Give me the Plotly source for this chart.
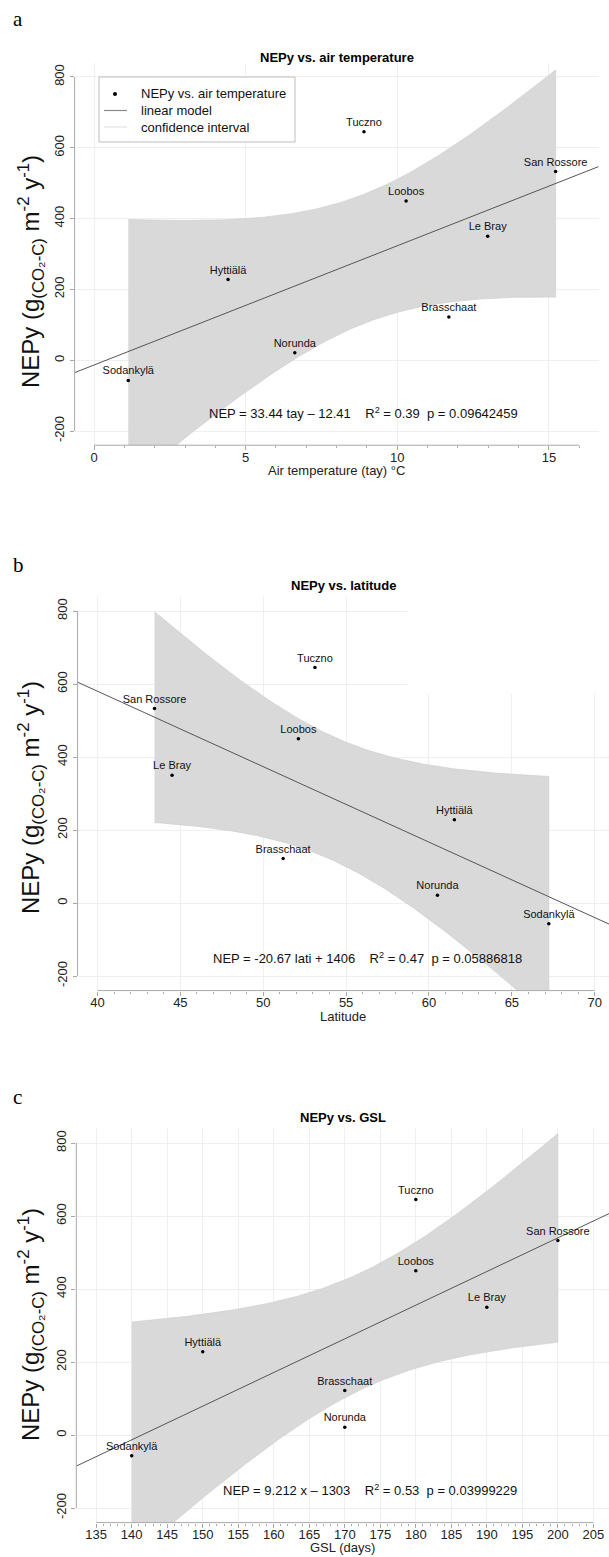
import numpy as np
import plotly.graph_objects as go

# ---------------- data ----------------
sites = ["Tuczno", "San Rossore", "Loobos", "Le Bray", "Hyttiälä", "Brasschaat", "Norunda", "Sodankylä"]
nep = [645, 533, 450, 350, 228, 122, 21, -57]
tay = [8.90, 15.22, 10.29, 12.98, 4.42, 11.70, 6.62, 1.13]
lat = [53.12, 43.44, 52.12, 44.50, 61.53, 51.20, 60.51, 67.23]
gsl = [180, 200, 180, 190, 150, 170, 170, 140]

titles = ["NEPy vs. air temperature", "NEPy vs. latitude", "NEPy vs. GSL"]
xtitles = ["Air temperature (tay) °C", "Latitude", "GSL (days)"]
equations = [
    "NEP = 33.44 tay – 12.41\u00a0\u00a0\u00a0\u00a0R<sup>2</sup> = 0.39\u00a0\u00a0p = 0.09642459",
    "NEP = -20.67 lati + 1406\u00a0\u00a0\u00a0\u00a0R<sup>2</sup> = 0.47\u00a0\u00a0p = 0.05886818",
    "NEP = 9.212 x – 1303\u00a0\u00a0\u00a0\u00a0R<sup>2</sup> = 0.53\u00a0\u00a0p = 0.03999229",
]
panel_letters = ["a", "b", "c"]
ytick_vals = [-200, 0, 200, 400, 600, 800]
ytick_text = ["-200", "0", "200", "400", "600", "800"]
xtick_sets = [[0, 5, 10, 15], list(range(40, 71, 5)), list(range(135, 206, 5))]
T975_DF6 = 2.446912  # qt(0.975, 6)

# ---------------- layout geometry (pixels) ----------------
W, H = 609, 1557
# (left px, right px, top px, bottom px, xrange)
geo = [
    (74.6, 598.7, 62.8, 445.2, [-0.64, 16.64]),
    (77.6, 609.0, 596.4, 990.6, [38.8, 70.86]),
    (76.3, 609.0, 1128.4, 1522.6, [132.2, 207.2]),
]
yrange = [-240, 840]
axis_span = [(0, 16), (40, 70), (135, 205)]
eq_pos = [(8.9, -150), (56.3, -152), (173.6, -152)]
letter_y = [19, 565, 1097]
title_y = [57, 585, 1117]
xtitle_y = [471, 1016, 1547]
ytitle_c = [272, 798, 1325]

FONT = "Liberation Sans, Arial, sans-serif"
GRID = "#efefef"
AXC = "#a8a8a8"
TXT = "#222222"

fig = go.Figure()
xs_all = [tay, lat, gsl]

shapes = []
annotations = []

for i in range(3):
    x = np.array(xs_all[i], dtype=float)
    y = np.array(nep, dtype=float)
    xa = "x" if i == 0 else f"x{i+1}"
    ya = "y" if i == 0 else f"y{i+1}"
    left, right, top, bot, xr = geo[i]

    # linear model and 95% confidence band computed from the data
    b1, b0 = np.polyfit(x, y, 1)
    n = len(x)
    resid = y - (b0 + b1 * x)
    s = np.sqrt(np.sum(resid ** 2) / (n - 2))
    sxx = np.sum((x - x.mean()) ** 2)
    xg = np.linspace(x.min(), x.max(), 200)
    fit = b0 + b1 * xg
    half = T975_DF6 * s * np.sqrt(1.0 / n + (xg - x.mean()) ** 2 / sxx)
    up, lo = fit + half, fit - half

    fig.add_trace(go.Scatter(
        x=np.concatenate([xg, xg[::-1]]), y=np.concatenate([up, lo[::-1]]),
        fill="toself", fillcolor="#d9d9d9", mode="lines",
        line=dict(color="#cdcdcd", width=0.6), hoverinfo="skip",
        showlegend=False, xaxis=xa, yaxis=ya, name="confidence interval"))

    xl = np.array(xr)
    fig.add_trace(go.Scatter(
        x=xl, y=b0 + b1 * xl, mode="lines", line=dict(color="#555555", width=1),
        showlegend=False, xaxis=xa, yaxis=ya, name="linear model"))

    fig.add_trace(go.Scatter(
        x=x, y=y, mode="markers+text", text=sites, textposition="top center",
        textfont=dict(family=FONT, size=11, color="#111111"),
        marker=dict(color="black", size=3.5), cliponaxis=False,
        showlegend=False, xaxis=xa, yaxis=ya, name=titles[i]))

    xdom = [left / W, min(right / W, 1.0)]
    ydom = [1 - bot / H, 1 - top / H]
    axkey = "xaxis" if i == 0 else f"xaxis{i+1}"
    aykey = "yaxis" if i == 0 else f"yaxis{i+1}"
    lo_s, hi_s = axis_span[i]
    fig.update_layout(**{
        axkey: dict(domain=xdom, range=xr, anchor=ya, tickvals=xtick_sets[i],
                    ticks="outside", ticklen=4, tickcolor=AXC, tickwidth=1,
                    ticklabelstandoff=-4,
                    showline=False, zeroline=False, showgrid=True, gridcolor=GRID,
                    gridwidth=1, tickfont=dict(family=FONT, size=13, color=TXT),
                    minor=dict(tickvals=list(range(lo_s, hi_s + 1)), ticks="outside",
                               ticklen=2, tickcolor=AXC, showgrid=False)),
        aykey: dict(domain=ydom, range=yrange, anchor=xa, tickvals=ytick_vals,
                    ticktext=ytick_text,
                    ticks="outside", ticklen=4, tickcolor=AXC, tickwidth=1,
                    showline=False, zeroline=False, showgrid=True, gridcolor=GRID,
                    gridwidth=1, tickangle=-90,
                    tickfont=dict(family=FONT, size=13, color=TXT)),
    })

    # R-style axis lines spanning the tick range
    shapes.append(dict(type="line", xref=f"{xa} domain", yref=ya, x0=0, x1=0,
                       y0=-200, y1=800, line=dict(color=AXC, width=1)))
    shapes.append(dict(type="line", xref=xa, yref=f"{ya} domain", x0=lo_s, x1=hi_s,
                       y0=0, y1=0, line=dict(color=AXC, width=1)))

    cx = (left + min(right, 615)) / 2 / W
    annotations.append(dict(text=f"<b>{titles[i]}</b>", x=cx, y=1 - title_y[i] / H,
                            xref="paper", yref="paper", showarrow=False,
                            font=dict(family=FONT, size=13, color="black"),
                            xanchor="center", yanchor="middle"))
    annotations.append(dict(text=xtitles[i], x=cx, y=1 - xtitle_y[i] / H,
                            xref="paper", yref="paper", showarrow=False,
                            font=dict(family=FONT, size=13, color=TXT),
                            xanchor="center", yanchor="middle"))
    annotations.append(dict(text=panel_letters[i], x=11 / W, y=1 - letter_y[i] / H,
                            xref="paper", yref="paper", showarrow=False,
                            font=dict(family="Liberation Serif, Times New Roman, serif",
                                      size=21, color="black"),
                            xanchor="left", yanchor="middle"))
    annotations.append(dict(text="NEPy (g<sub>(CO₂-C)</sub> m<sup>-2</sup> y<sup>-1</sup>)",
                            x=31 / W, y=1 - ytitle_c[i] / H,
                            xref="paper", yref="paper", showarrow=False, textangle=-90,
                            font=dict(family=FONT, size=24, color="#111111"),
                            xanchor="center", yanchor="middle"))
    ex, ey = eq_pos[i]
    annotations.append(dict(text=equations[i], x=ex, y=ey, xref=xa, yref=ya,
                            showarrow=False, font=dict(family=FONT, size=13, color="#111111"),
                            xanchor="center", yanchor="middle"))

# blank (empty white) box in panel b's upper right, as in the original
shapes.append(dict(type="rect", xref="x2", yref="y2", x0=58.7, x1=72, y0=573, y1=850,
                   fillcolor="white", line=dict(width=0), layer="between"))

# manual legend for panel a
lg_l, lg_r, lg_t, lg_b = 99, 295, 77, 142
shapes.append(dict(type="rect", xref="paper", yref="paper", x0=lg_l / W, x1=lg_r / W,
                   y0=1 - lg_b / H, y1=1 - lg_t / H, fillcolor="white",
                   line=dict(color="#bdbdbd", width=1), layer="above"))
rows = [94, 110.5, 127]
shapes.append(dict(type="circle", xref="paper", yref="paper",
                   x0=(115 - 2) / W, x1=(115 + 2) / W, y0=1 - (rows[0] + 2) / H,
                   y1=1 - (rows[0] - 2) / H, fillcolor="black", line=dict(width=0),
                   layer="above"))
shapes.append(dict(type="line", xref="paper", yref="paper", x0=104 / W, x1=127 / W,
                   y0=1 - rows[1] / H, y1=1 - rows[1] / H,
                   line=dict(color="#8a8a8a", width=1.2), layer="above"))
shapes.append(dict(type="line", xref="paper", yref="paper", x0=104 / W, x1=127 / W,
                   y0=1 - rows[2] / H, y1=1 - rows[2] / H,
                   line=dict(color="#dddddd", width=1), layer="above"))
legend_labels = ["NEPy vs. air temperature", "linear model", "confidence interval"]
for r, lab in zip(rows, legend_labels):
    annotations.append(dict(text=lab, x=139 / W, y=1 - r / H, xref="paper", yref="paper",
                            showarrow=False, xanchor="left", yanchor="middle",
                            font=dict(family=FONT, size=13, color="#111111")))

fig.update_layout(width=W, height=H, margin=dict(l=0, r=0, t=0, b=0),
                  paper_bgcolor="white", plot_bgcolor="white",
                  shapes=shapes, annotations=annotations, showlegend=False)

fig.write_html("out.html", config={"displayModeBar": False},
               post_script="document.body.style.margin='0px';"
                           "document.body.style.overflow='hidden';")
